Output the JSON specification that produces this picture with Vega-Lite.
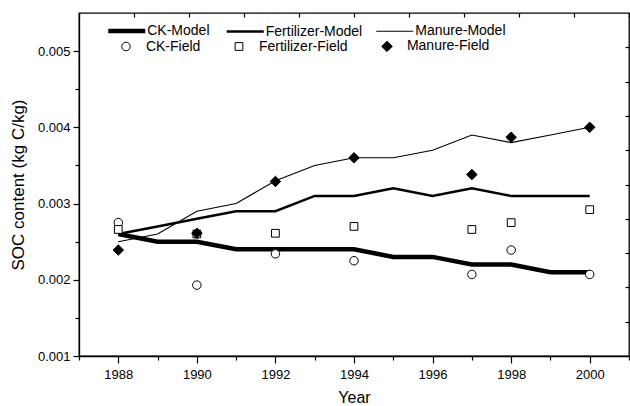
{
  "$schema": "https://vega.github.io/schema/vega-lite/v6.json",
  "width": 550,
  "height": 343,
  "autosize": "none",
  "padding": {"left": 79, "top": 13, "right": 1, "bottom": 50},
  "config": {
    "font": "Liberation Sans",
    "view": {"stroke": "black", "strokeWidth": 1.3},
    "axis": {"grid": false, "tickColor": "black", "domainColor": "black", "labelColor": "black", "titleColor": "black", "tickWidth": 1.2, "domainWidth": 1.3, "titleFontWeight": "normal"}
  },
  "data": {
    "values": [
      {"year": 1988, "value": 0.0026, "series": "CK-Model", "kind": "model"},
      {"year": 1989, "value": 0.0025, "series": "CK-Model", "kind": "model"},
      {"year": 1990, "value": 0.0025, "series": "CK-Model", "kind": "model"},
      {"year": 1991, "value": 0.0024, "series": "CK-Model", "kind": "model"},
      {"year": 1992, "value": 0.0024, "series": "CK-Model", "kind": "model"},
      {"year": 1993, "value": 0.0024, "series": "CK-Model", "kind": "model"},
      {"year": 1994, "value": 0.0024, "series": "CK-Model", "kind": "model"},
      {"year": 1995, "value": 0.0023, "series": "CK-Model", "kind": "model"},
      {"year": 1996, "value": 0.0023, "series": "CK-Model", "kind": "model"},
      {"year": 1997, "value": 0.0022, "series": "CK-Model", "kind": "model"},
      {"year": 1998, "value": 0.0022, "series": "CK-Model", "kind": "model"},
      {"year": 1999, "value": 0.0021, "series": "CK-Model", "kind": "model"},
      {"year": 2000, "value": 0.0021, "series": "CK-Model", "kind": "model"},
      {"year": 1988, "value": 0.0026, "series": "Fertilizer-Model", "kind": "model"},
      {"year": 1989, "value": 0.0027, "series": "Fertilizer-Model", "kind": "model"},
      {"year": 1990, "value": 0.0028, "series": "Fertilizer-Model", "kind": "model"},
      {"year": 1991, "value": 0.0029, "series": "Fertilizer-Model", "kind": "model"},
      {"year": 1992, "value": 0.0029, "series": "Fertilizer-Model", "kind": "model"},
      {"year": 1993, "value": 0.0031, "series": "Fertilizer-Model", "kind": "model"},
      {"year": 1994, "value": 0.0031, "series": "Fertilizer-Model", "kind": "model"},
      {"year": 1995, "value": 0.0032, "series": "Fertilizer-Model", "kind": "model"},
      {"year": 1996, "value": 0.0031, "series": "Fertilizer-Model", "kind": "model"},
      {"year": 1997, "value": 0.0032, "series": "Fertilizer-Model", "kind": "model"},
      {"year": 1998, "value": 0.0031, "series": "Fertilizer-Model", "kind": "model"},
      {"year": 1999, "value": 0.0031, "series": "Fertilizer-Model", "kind": "model"},
      {"year": 2000, "value": 0.0031, "series": "Fertilizer-Model", "kind": "model"},
      {"year": 1988, "value": 0.0025, "series": "Manure-Model", "kind": "model"},
      {"year": 1989, "value": 0.0026, "series": "Manure-Model", "kind": "model"},
      {"year": 1990, "value": 0.0029, "series": "Manure-Model", "kind": "model"},
      {"year": 1991, "value": 0.0030, "series": "Manure-Model", "kind": "model"},
      {"year": 1992, "value": 0.0033, "series": "Manure-Model", "kind": "model"},
      {"year": 1993, "value": 0.0035, "series": "Manure-Model", "kind": "model"},
      {"year": 1994, "value": 0.0036, "series": "Manure-Model", "kind": "model"},
      {"year": 1995, "value": 0.0036, "series": "Manure-Model", "kind": "model"},
      {"year": 1996, "value": 0.0037, "series": "Manure-Model", "kind": "model"},
      {"year": 1997, "value": 0.0039, "series": "Manure-Model", "kind": "model"},
      {"year": 1998, "value": 0.0038, "series": "Manure-Model", "kind": "model"},
      {"year": 1999, "value": 0.0039, "series": "Manure-Model", "kind": "model"},
      {"year": 2000, "value": 0.0040, "series": "Manure-Model", "kind": "model"},
      {"year": 1988, "value": 0.00275, "series": "CK-Field", "kind": "field"},
      {"year": 1990, "value": 0.00193, "series": "CK-Field", "kind": "field"},
      {"year": 1992, "value": 0.00234, "series": "CK-Field", "kind": "field"},
      {"year": 1994, "value": 0.00225, "series": "CK-Field", "kind": "field"},
      {"year": 1997, "value": 0.00207, "series": "CK-Field", "kind": "field"},
      {"year": 1998, "value": 0.00239, "series": "CK-Field", "kind": "field"},
      {"year": 2000, "value": 0.00207, "series": "CK-Field", "kind": "field"},
      {"year": 1988, "value": 0.00266, "series": "Fertilizer-Field", "kind": "field"},
      {"year": 1990, "value": 0.0026, "series": "Fertilizer-Field", "kind": "field"},
      {"year": 1992, "value": 0.00261, "series": "Fertilizer-Field", "kind": "field"},
      {"year": 1994, "value": 0.0027, "series": "Fertilizer-Field", "kind": "field"},
      {"year": 1997, "value": 0.00266, "series": "Fertilizer-Field", "kind": "field"},
      {"year": 1998, "value": 0.00275, "series": "Fertilizer-Field", "kind": "field"},
      {"year": 2000, "value": 0.00292, "series": "Fertilizer-Field", "kind": "field"},
      {"year": 1988, "value": 0.00239, "series": "Manure-Field", "kind": "field"},
      {"year": 1990, "value": 0.00261, "series": "Manure-Field", "kind": "field"},
      {"year": 1992, "value": 0.00329, "series": "Manure-Field", "kind": "field"},
      {"year": 1994, "value": 0.0036, "series": "Manure-Field", "kind": "field"},
      {"year": 1997, "value": 0.00338, "series": "Manure-Field", "kind": "field"},
      {"year": 1998, "value": 0.00387, "series": "Manure-Field", "kind": "field"},
      {"year": 2000, "value": 0.0040, "series": "Manure-Field", "kind": "field"}
    ]
  },
  "resolve": {"axis": {"x": "independent", "y": "independent"}},
  "layer": [
    {
      "transform": [{"filter": "datum.kind === 'model'"}],
      "mark": {"type": "line", "stroke": "black", "strokeCap": "butt"},
      "encoding": {
        "x": {"field": "year", "type": "quantitative", "scale": {"domain": [1987, 2001], "nice": false, "zero": false},
          "axis": {"orient": "bottom", "values": [1988, 1990, 1992, 1994, 1996, 1998, 2000], "format": "d", "tickSize": 7, "labelPadding": 5, "labelFontSize": 13, "title": "Year", "titleFontSize": 16, "titlePadding": 8, "labelFlush": false}},
        "y": {"field": "value", "type": "quantitative", "scale": {"domain": [0.001, 0.0055], "nice": false, "zero": false},
          "axis": {"orient": "left", "values": [0.001, 0.002, 0.003, 0.004, 0.005], "format": ".3f", "tickSize": 6, "labelPadding": 3, "labelFontSize": 13, "title": "SOC content (kg C/kg)", "titleFontSize": 17, "titlePadding": 10, "labelFlush": false}},
        "strokeWidth": {"field": "series", "type": "nominal",
          "scale": {"type": "ordinal", "domain": ["CK-Model", "Fertilizer-Model", "Manure-Model"], "range": [4.5, 2.5, 1.1]},
          "legend": {"orient": "none", "legendX": 26.75, "legendY": -3, "direction": "horizontal", "columns": 3, "columnPadding": 11.5, "labelOffset": -0.5, "symbolType": "stroke", "symbolSize": 1369, "symbolStrokeColor": "black", "labelFontSize": 14, "labelColor": "black", "title": null, "padding": 0, "labelLimit": 200}},
        "detail": {"field": "series"}
      }
    },
    {
      "transform": [{"filter": "datum.kind === 'field'"}],
      "mark": {"type": "point", "filled": true, "stroke": "black", "strokeWidth": 1, "opacity": 1, "fillOpacity": 1},
      "encoding": {
        "x": {"field": "year", "type": "quantitative",
          "axis": {"orient": "bottom", "values": [1987, 1989, 1991, 1993, 1995, 1997, 1999, 2001], "tickSize": 4, "labels": false, "domain": false, "title": null}},
        "y": {"field": "value", "type": "quantitative",
          "axis": {"orient": "left", "values": [0.0015, 0.0025, 0.0035, 0.0045], "tickSize": 4, "labels": false, "domain": false, "title": null}},
        "shape": {"field": "series", "type": "nominal",
          "scale": {"domain": ["CK-Field", "Fertilizer-Field", "Manure-Field"], "range": ["circle", "square", "diamond"]},
          "legend": {"orient": "none", "legendX": 40, "legendY": 26, "direction": "horizontal", "columns": 3, "columnPadding": 31, "labelOffset": 12.9, "symbolStrokeColor": "black", "symbolStrokeWidth": 1, "labelFontSize": 14, "labelColor": "black", "title": null, "padding": 0, "labelLimit": 200}},
        "fill": {"field": "series", "type": "nominal",
          "scale": {"domain": ["CK-Field", "Fertilizer-Field", "Manure-Field"], "range": ["white", "white", "black"]}},
        "size": {"field": "series", "type": "nominal",
          "scale": {"type": "ordinal", "domain": ["CK-Field", "Fertilizer-Field", "Manure-Field"], "range": [72, 60, 110]}}
      }
    },
    {
      "mark": {"type": "point", "opacity": 0},
      "encoding": {
        "x": {"field": "year", "type": "quantitative",
          "axis": {"orient": "top", "values": [1987, 1988.4, 1989.8, 1991.2, 1992.6, 1994, 1995.4, 1996.8, 1998.2, 1999.6, 2001], "tickSize": -4, "labels": false, "domain": false, "title": null}},
        "y": {"field": "value", "type": "quantitative",
          "axis": {"orient": "right", "values": [0.00145, 0.0019, 0.00235, 0.0028, 0.00325, 0.0037, 0.00415, 0.0046, 0.00505], "tickSize": -4, "labels": false, "domain": false, "title": null}}
      }
    }
  ]
}
